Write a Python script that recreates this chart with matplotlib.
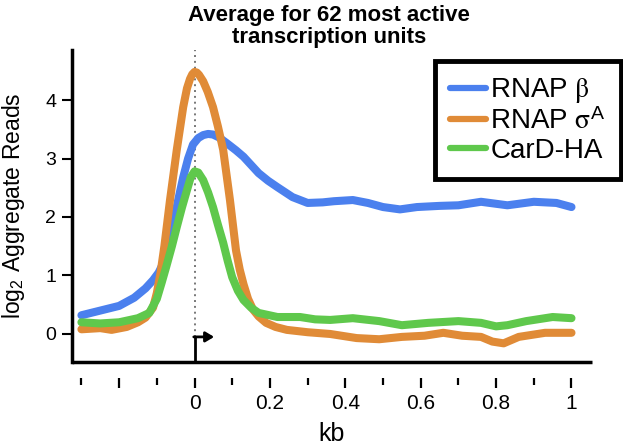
import matplotlib
matplotlib.use('Agg')
import matplotlib.pyplot as plt

# values (kb, log2 aggregate reads)
beta_kb = [-0.30, -0.25, -0.20, -0.16, -0.13, -0.11, -0.095, -0.083, -0.07, -0.056, -0.043,
           -0.03, -0.017, -0.004, 0.01, 0.023, 0.036, 0.049, 0.065, 0.086, 0.11, 0.13, 0.15,
           0.17, 0.195, 0.22, 0.26, 0.30, 0.34, 0.37, 0.42, 0.46, 0.50, 0.545, 0.59,
           0.65, 0.70, 0.76, 0.83, 0.90, 0.96, 1.00]
beta_val = [0.32, 0.40, 0.48, 0.62, 0.78, 0.92, 1.05, 1.21, 1.52, 1.90, 2.30,
            2.68, 3.00, 3.24, 3.35, 3.40, 3.42, 3.41, 3.36, 3.26, 3.14, 3.03, 2.89,
            2.75, 2.62, 2.51, 2.34, 2.24, 2.25, 2.27, 2.29, 2.24, 2.17, 2.13, 2.17,
            2.19, 2.20, 2.26, 2.20, 2.26, 2.24, 2.17]

sigma_kb = [-0.30, -0.25, -0.22, -0.18, -0.15, -0.13, -0.11, -0.10, -0.09, -0.08, -0.065,
            -0.047, -0.03, -0.02, -0.012, -0.006, 0.0, 0.006, 0.012, 0.023, 0.035, 0.049,
            0.062, 0.076, 0.094, 0.11, 0.12, 0.13, 0.142, 0.155, 0.17, 0.19, 0.215, 0.245,
            0.30, 0.36, 0.43, 0.49, 0.55, 0.61, 0.66, 0.71, 0.76, 0.79, 0.82, 0.86, 0.93, 1.00]
sigma_val = [0.08, 0.10, 0.07, 0.12, 0.20, 0.28, 0.45, 0.70, 1.05, 1.50, 2.29,
             3.15, 3.88, 4.20, 4.36, 4.44, 4.48, 4.47, 4.43, 4.32, 4.14, 3.88,
             3.55, 3.15, 2.29, 1.43, 1.10, 0.85, 0.60, 0.42, 0.30, 0.19, 0.12, 0.07,
             0.03, 0.00, -0.07, -0.09, -0.05, -0.03, 0.02, -0.03, -0.05, -0.13, -0.16, -0.05, 0.02, 0.02]

card_kb = [-0.30, -0.25, -0.20, -0.15, -0.12, -0.10, -0.087, -0.075, -0.06, -0.047, -0.033,
           -0.02, -0.01, 0.0, 0.01, 0.023, 0.036, 0.049, 0.062, 0.076, 0.088, 0.10, 0.115,
           0.13, 0.15, 0.17, 0.22, 0.28, 0.32, 0.36, 0.42, 0.49, 0.55, 0.62,
           0.70, 0.76, 0.80, 0.83, 0.88, 0.95, 1.00]
card_val = [0.20, 0.18, 0.20, 0.27, 0.36, 0.60, 0.88, 1.15, 1.50, 1.83, 2.17,
            2.46, 2.68, 2.78, 2.76, 2.63, 2.42, 2.17, 1.87, 1.56, 1.25, 0.97, 0.74,
            0.58, 0.45, 0.36, 0.29, 0.29, 0.25, 0.24, 0.27, 0.22, 0.15, 0.19,
            0.22, 0.19, 0.13, 0.15, 0.22, 0.29, 0.27]

labels = [r'RNAP $\mathrm{\beta}$', r'RNAP $\mathrm{\sigma}^{\mathregular{A}}$', 'CarD-HA']
colors = ['#4b80ee', '#e08b37', '#5fc84c']

xticks = [-0.2, 0, 0.2, 0.4, 0.6, 0.8, 1.0]
xticklabels = ['', '0', '0.2', '0.4', '0.6', '0.8', '1']
xminor = [-0.3, -0.1, 0.1, 0.3, 0.5, 0.7, 0.9]
yticks = [0, 1, 2, 3, 4]

plt.rcParams['font.family'] = ['Liberation Sans', 'DejaVu Sans']
plt.rcParams['mathtext.fontset'] = 'stix'

fig = plt.figure(figsize=(6.23, 4.48), dpi=100)
ax = fig.add_axes([72 / 623, 1 - 361.7 / 448, 519.7 / 623, 311.7 / 448])

# dotted line at the TSS
ax.plot([0, 0], [-0.05, 4.86], color='#777777', lw=1.4, ls=(0, (1, 2)), zorder=1)

for kb, val, c, lab in zip([beta_kb, sigma_kb, card_kb], [beta_val, sigma_val, card_val], colors, labels):
    ax.plot(kb, val, color=c, lw=5.8, label=lab, solid_capstyle='round',
            solid_joinstyle='round', zorder=2)

# transcription start arrow
ax.plot([0, 0], [-0.474, -0.05], color='black', lw=2, solid_capstyle='butt', zorder=3)
ax.annotate('', xy=(0.052, -0.05), xytext=(-0.002, -0.05),
            arrowprops=dict(arrowstyle='-|>,head_length=0.5,head_width=0.3', color='black', lw=2,
                            shrinkA=0, shrinkB=0), zorder=3)

ax.set_xlim(-0.325, 1.0536)
ax.set_ylim(-0.474, 4.855)

for s in ['top', 'right']:
    ax.spines[s].set_visible(False)
ax.spines['left'].set_linewidth(2.5)
# ticks sit below the axis line, detached from it
ax.spines['bottom'].set_position(('outward', 12))
ax.spines['bottom'].set_visible(False)
ax.plot([0, 1], [0, 0], transform=ax.transAxes, color='black', lw=2.5, clip_on=False,
        solid_capstyle='butt')

ax.set_xticks(xticks)
ax.set_xticklabels(xticklabels, fontsize=15)
ax.set_xticks(xminor, minor=True)
ax.tick_params(axis='x', which='major', length=7.5, width=1.6, pad=4, direction='out')
ax.tick_params(axis='x', which='minor', length=5, width=1.6, direction='out')
ax.set_yticks(yticks)
ax.tick_params(axis='y', length=7.5, width=1.5, labelsize=14, pad=4)

ax.set_xlabel('kb', fontsize=18)
ax.xaxis.set_label_coords(0.5, -0.195)
ax.set_ylabel(r'log$_{\mathregular{2}}$ Aggregate Reads', fontsize=16.5)
ax.yaxis.set_label_coords(-0.087, 0.5)

fig.text(0.528, 0.94, 'Average for 62 most active\ntranscription units', ha='center', va='center',
         fontsize=16, fontweight='bold', linespacing=1.05)

leg = ax.legend(loc='upper right', bbox_to_anchor=(621 / 623, 1 - 61 / 448),
                bbox_transform=fig.transFigure, fontsize=20, frameon=True, fancybox=False,
                framealpha=1, handlelength=1.3, handletextpad=0.15, labelspacing=0.1,
                borderpad=0.55, borderaxespad=0)
leg.get_frame().set_edgecolor('black')
leg.get_frame().set_linewidth(3.5)
for h in leg.legend_handles:
    h.set_linewidth(4.5)

fig.savefig('out.png', dpi=100)
